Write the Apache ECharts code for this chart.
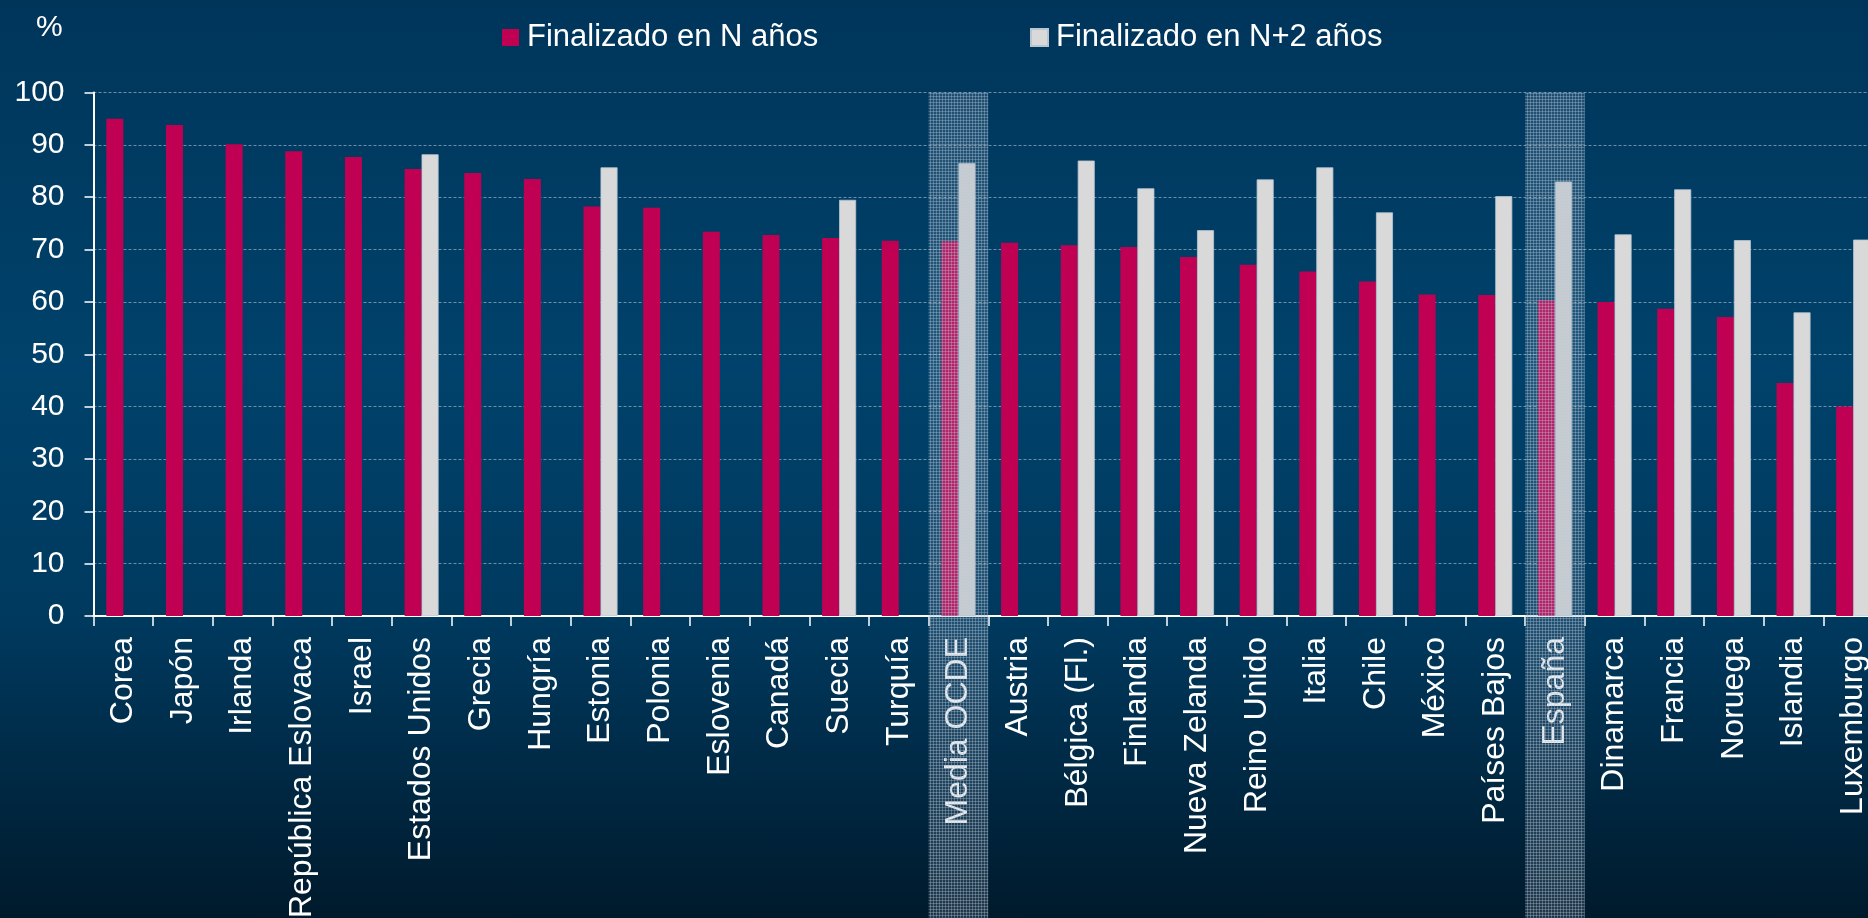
<!DOCTYPE html>
<html lang="es">
<head>
    <meta charset="UTF-8">
    <script src="https://cdn.jsdelivr.net/npm/echarts@6/dist/echarts.min.js"></script>
    <title>Finalizado en N / N+2 años</title>
    <style>
        html, body { margin: 0; padding: 0; }
        body {
            width: 1868px; height: 918px; overflow: hidden;
            background: linear-gradient(to bottom, #00355a 0%, #00426b 40%, #00395e 68%, #001a2c 100%);
        }
        #main { width: 1868px; height: 918px; }
    </style>
</head>
<body>
<div id="main"></div>
<script type="text/javascript">
    // data
    var paises = ['Corea', 'Japón', 'Irlanda', 'República Eslovaca', 'Israel', 'Estados Unidos', 'Grecia',
        'Hungría', 'Estonia', 'Polonia', 'Eslovenia', 'Canadá', 'Suecia', 'Turquía', 'Media OCDE',
        'Austria', 'Bélgica (Fl.)', 'Finlandia', 'Nueva Zelanda', 'Reino Unido', 'Italia', 'Chile',
        'México', 'Países Bajos', 'España', 'Dinamarca', 'Francia', 'Noruega', 'Islandia', 'Luxemburgo'];
    var enN = [95.0, 93.8, 90.1, 88.8, 87.7, 85.4, 84.6, 83.5, 78.2, 78.0, 73.4, 72.8, 72.2, 71.7, 71.6,
        71.3, 70.8, 70.5, 68.6, 67.1, 65.8, 63.9, 61.4, 61.3, 60.3, 60.0, 58.7, 57.1, 44.5, 40.0];
    var enN2 = [null, null, null, null, null, 88.2, null, null, 85.7, null, null, null, 79.5, null, 86.5,
        null, 87.0, 81.7, 73.7, 83.4, 85.7, 77.1, null, 80.2, 83.0, 72.9, 81.5, 71.8, 58.0, 71.9];
    var resaltados = ['Media OCDE', 'España'];
    var yTicks = [0, 10, 20, 30, 40, 50, 60, 70, 80, 90, 100];

    var font = '"Liberation Sans", Arial, sans-serif';
    var chart = echarts.init(document.getElementById('main'), null, { renderer: 'canvas' });

    var option = {
        backgroundColor: 'transparent',
        animation: false,
        title: {
            text: '%', left: 31, top: 8,
            textStyle: { color: '#fff', fontSize: 30, fontWeight: 'normal', fontFamily: font }
        },
        legend: [{
            data: ['Finalizado en N años'], left: 497, top: 17, icon: 'rect',
            itemWidth: 17, itemHeight: 17,
            textStyle: { color: '#fff', fontSize: 31, fontFamily: font, padding: [0, 0, 0, 3] }
        }, {
            data: ['Finalizado en N+2 años'], left: 1025, top: 17, icon: 'rect',
            itemWidth: 17, itemHeight: 17,
            textStyle: { color: '#fff', fontSize: 31, fontFamily: font, padding: [0, 0, 0, 3] }
        }],
        // the plot runs a little past the right edge of the picture, as in the original
        grid: {
            left: 93.5, right: -15, top: 92.5, bottom: 302,
            containLabel: false, outerBoundsMode: 'none'
        },
        xAxis: {
            type: 'category', data: paises,
            axisLine: { lineStyle: { color: '#fff', width: 2 } },
            axisTick: { show: true, length: 10, lineStyle: { color: '#fff', width: 1.5 } },
            axisLabel: {
                rotate: 90, margin: 21, interval: 0, color: '#fff',
                fontSize: 32, fontFamily: font
            }
        },
        yAxis: {
            type: 'value', min: yTicks[0], max: yTicks[yTicks.length - 1], interval: 10,
            axisLine: { show: true, lineStyle: { color: '#fff', width: 2 } },
            axisTick: { show: true, length: 9, lineStyle: { color: '#fff', width: 1.5 } },
            axisLabel: { color: '#fff', fontSize: 30, fontFamily: font, margin: 29 },
            splitLine: { lineStyle: { color: '#8aa3b8', width: 1, type: [3, 2], opacity: 0.8 } }
        },
        series: [{
            name: 'Finalizado en N años', type: 'bar', data: enN,
            barWidth: 17, barGap: '0%',
            itemStyle: { color: '#c00052' }
        }, {
            name: 'Finalizado en N+2 años', type: 'bar', data: enN2,
            barWidth: 17,
            itemStyle: { color: '#d9d9d9', borderColor: '#b9c6d2', borderWidth: 0.8 }
        }]
    };
    chart.setOption(option);

    // textured highlight bands over "Media OCDE" and "España", placed through the axis scale
    function patron() {
        var c = document.createElement('canvas');
        c.width = 3; c.height = 3;
        var ctx = c.getContext('2d');
        ctx.fillStyle = 'rgba(140,160,182,0.22)';
        ctx.fillRect(0, 0, 3, 3);
        ctx.fillStyle = 'rgba(185,200,215,0.34)';
        ctx.fillRect(0, 0, 3, 1);
        ctx.fillRect(0, 0, 1, 3);
        return c;
    }
    var pat = { image: patron(), repeat: 'repeat' };
    var p0 = chart.convertToPixel({ gridIndex: 0 }, [0, 100]);
    var p1 = chart.convertToPixel({ gridIndex: 0 }, [1, 100]);
    var anchoCat = p1[0] - p0[0];
    var bandas = resaltados.map(function (nombre) {
        var p = chart.convertToPixel({ gridIndex: 0 }, [paises.indexOf(nombre), 100]);
        return {
            type: 'rect', z: 100, silent: true,
            shape: { x: p[0] - anchoCat / 2, y: p[1], width: anchoCat, height: 918 - p[1] },
            style: { fill: pat }
        };
    });
    chart.setOption({ graphic: bandas });
</script>
</body>
</html>
